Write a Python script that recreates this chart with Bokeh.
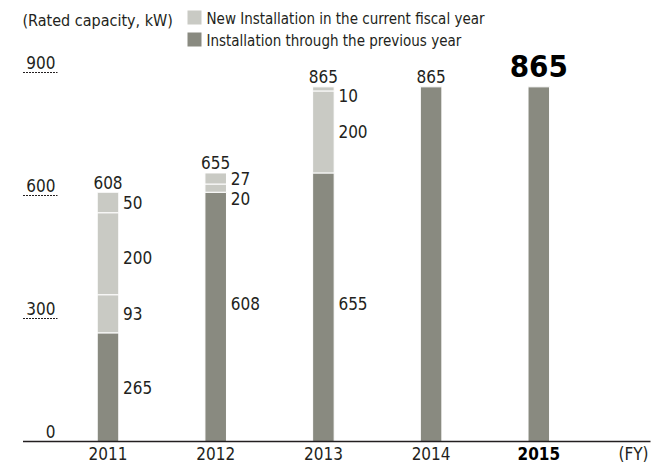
from bokeh.plotting import figure
from bokeh.models import Range1d
from bokeh.core.properties import value
from bokeh.embed import file_html
from bokeh.resources import INLINE

# ---------------- data ----------------
years = ["2011", "2012", "2013", "2014", "2015"]
previous = [265, 608, 655, 865, 865]            # installation through previous year
new_2011 = [93, 200, 50]                         # new installations stacked (bottom -> top)
new_2012 = [20, 27]
new_2013 = [200, 10]
new_2014 = []
new_2015 = []
totals = [608, 655, 865, 865, 865]
y_ticks = [0, 300, 600, 900]
y_tick_labels = ["0", "300", "600", "900"]
legend_labels = ["New Installation in the current fiscal year",
                 "Installation through the previous year"]
unit_label = "(Rated capacity, kW)"
fy_label = "(FY)"

new_segments = [new_2011, new_2012, new_2013, new_2014, new_2015]

# ---------------- style ----------------
FONT = value("'DejaVu Sans Condensed', sans-serif")
DARK = "#898a80"
LIGHT = "#c9cac4"
TEXT = "#231f20"
FS = "17px"

W, H = 668, 465
PX_PER_X = 107.7
PX_PER_Y = 0.41
X0_PX = 107.5    # px of first bar center
Y0_PX = 441.0    # px of value 0

x_start = -X0_PX / PX_PER_X
x_end = x_start + W / PX_PER_X
y_end = Y0_PX / PX_PER_Y
y_start = -(H - Y0_PX) / PX_PER_Y


def dx(px):  # window px -> data x
    return x_start + px / PX_PER_X


def dy(py):  # window px -> data y
    return y_end - py / PX_PER_Y


p = figure(width=W, height=H, output_backend="svg", toolbar_location=None,
           x_range=Range1d(x_start, x_end), y_range=Range1d(y_start, y_end),
           min_border=0, min_border_left=0, min_border_right=0,
           min_border_top=0, min_border_bottom=0)
p.axis.visible = False
p.grid.visible = False
p.outline_line_color = None
p.background_fill_color = "white"
p.border_fill_color = "white"

BAR_W = 0.2
xs = list(range(len(years)))

# dark bars
p.vbar(x=xs, bottom=[0] * len(xs), top=previous, width=BAR_W,
       fill_color=DARK, line_color="white", line_width=1)

# light stacked segments
seg_x, seg_b, seg_t = [], [], []
for i, segs in enumerate(new_segments):
    base = previous[i]
    for v in segs:
        seg_x.append(i)
        seg_b.append(base)
        seg_t.append(base + v)
        base += v
p.vbar(x=seg_x, bottom=seg_b, top=seg_t, width=BAR_W,
       fill_color=LIGHT, line_color="white", line_width=1)

# segment labels (right of bars)
prev_nudges = [0, -13, -4, 0, 0]      # px down
new_nudges = [[0, 4, 0], [10, 0], [0, 7], [], []]
lx, ly, lt, loff = [], [], [], []
for i in range(len(years)):
    if new_segments[i]:
        lx.append(i); ly.append(previous[i] / 2); lt.append(str(previous[i]))
        loff.append(prev_nudges[i])
    base = previous[i]
    for k, v in enumerate(new_segments[i]):
        lx.append(i); ly.append(base + v / 2); lt.append(str(v))
        loff.append(new_nudges[i][k])
        base += v
for x_, y_, t_, o_ in zip(lx, ly, lt, loff):
    p.text(x=[x_], y=[y_], text=[t_], x_offset=15, y_offset=o_,
           text_align="left", text_baseline="middle",
           text_font=FONT, text_font_size=FS, text_color=TEXT)

# total labels
p.text(x=xs[:4], y=totals[:4], text=[str(t) for t in totals[:4]], y_offset=-10,
       text_align="center", text_baseline="middle",
       text_font=FONT, text_font_size=FS, text_color=TEXT)
p.text(x=[xs[4]], y=[totals[4]], text=[str(totals[4])], y_offset=-21,
       text_align="center", text_baseline="middle",
       text_font=FONT, text_font_size="31px", text_font_style="bold",
       text_color="black")

# x category labels
p.text(x=xs[:4], y=[0] * 4, text=years[:4], y_offset=12,
       text_align="center", text_baseline="middle",
       text_font=FONT, text_font_size=FS, text_color=TEXT)
p.text(x=[xs[4]], y=[0], text=[years[4]], y_offset=12,
       text_align="center", text_baseline="middle",
       text_font=FONT, text_font_size=FS, text_font_style="bold",
       text_color="black")
p.text(x=[dx(648)], y=[0], text=[fy_label], y_offset=12,
       text_align="right", text_baseline="middle",
       text_font=FONT, text_font_size=FS, text_color=TEXT)

# baseline
p.segment(x0=[dx(22.5)], y0=[0], x1=[dx(650)], y1=[0],
          line_color="#231f20", line_width=1.3)

# y ticks
p.text(x=[dx(55)] * len(y_ticks), y=y_ticks, text=y_tick_labels, y_offset=-10,
       text_align="right", text_baseline="middle",
       text_font=FONT, text_font_size=FS, text_color=TEXT)
p.segment(x0=[dx(22.5)] * 3, y0=y_ticks[1:], x1=[dx(57)] * 3, y1=y_ticks[1:],
          line_color="#231f20", line_width=1, line_dash="2 1")

# unit label
p.text(x=[dx(22)], y=[dy(20)], text=[unit_label],
       text_align="left", text_baseline="middle",
       text_font=FONT, text_font_size="16px", text_color=TEXT)

# legend
sq = 14
p.rect(x=[dx(194)], y=[dy(17)], width=sq / PX_PER_X, height=sq / PX_PER_Y,
       fill_color=LIGHT, line_color=None)
p.rect(x=[dx(194)], y=[dy(39)], width=sq / PX_PER_X, height=sq / PX_PER_Y,
       fill_color=DARK, line_color=None)
p.text(x=[dx(206)] * 2, y=[dy(18), dy(40)], text=legend_labels,
       text_align="left", text_baseline="middle",
       text_font=FONT, text_font_size="15px", text_color=TEXT)

open("out.html", "w").write(file_html(p, INLINE))
